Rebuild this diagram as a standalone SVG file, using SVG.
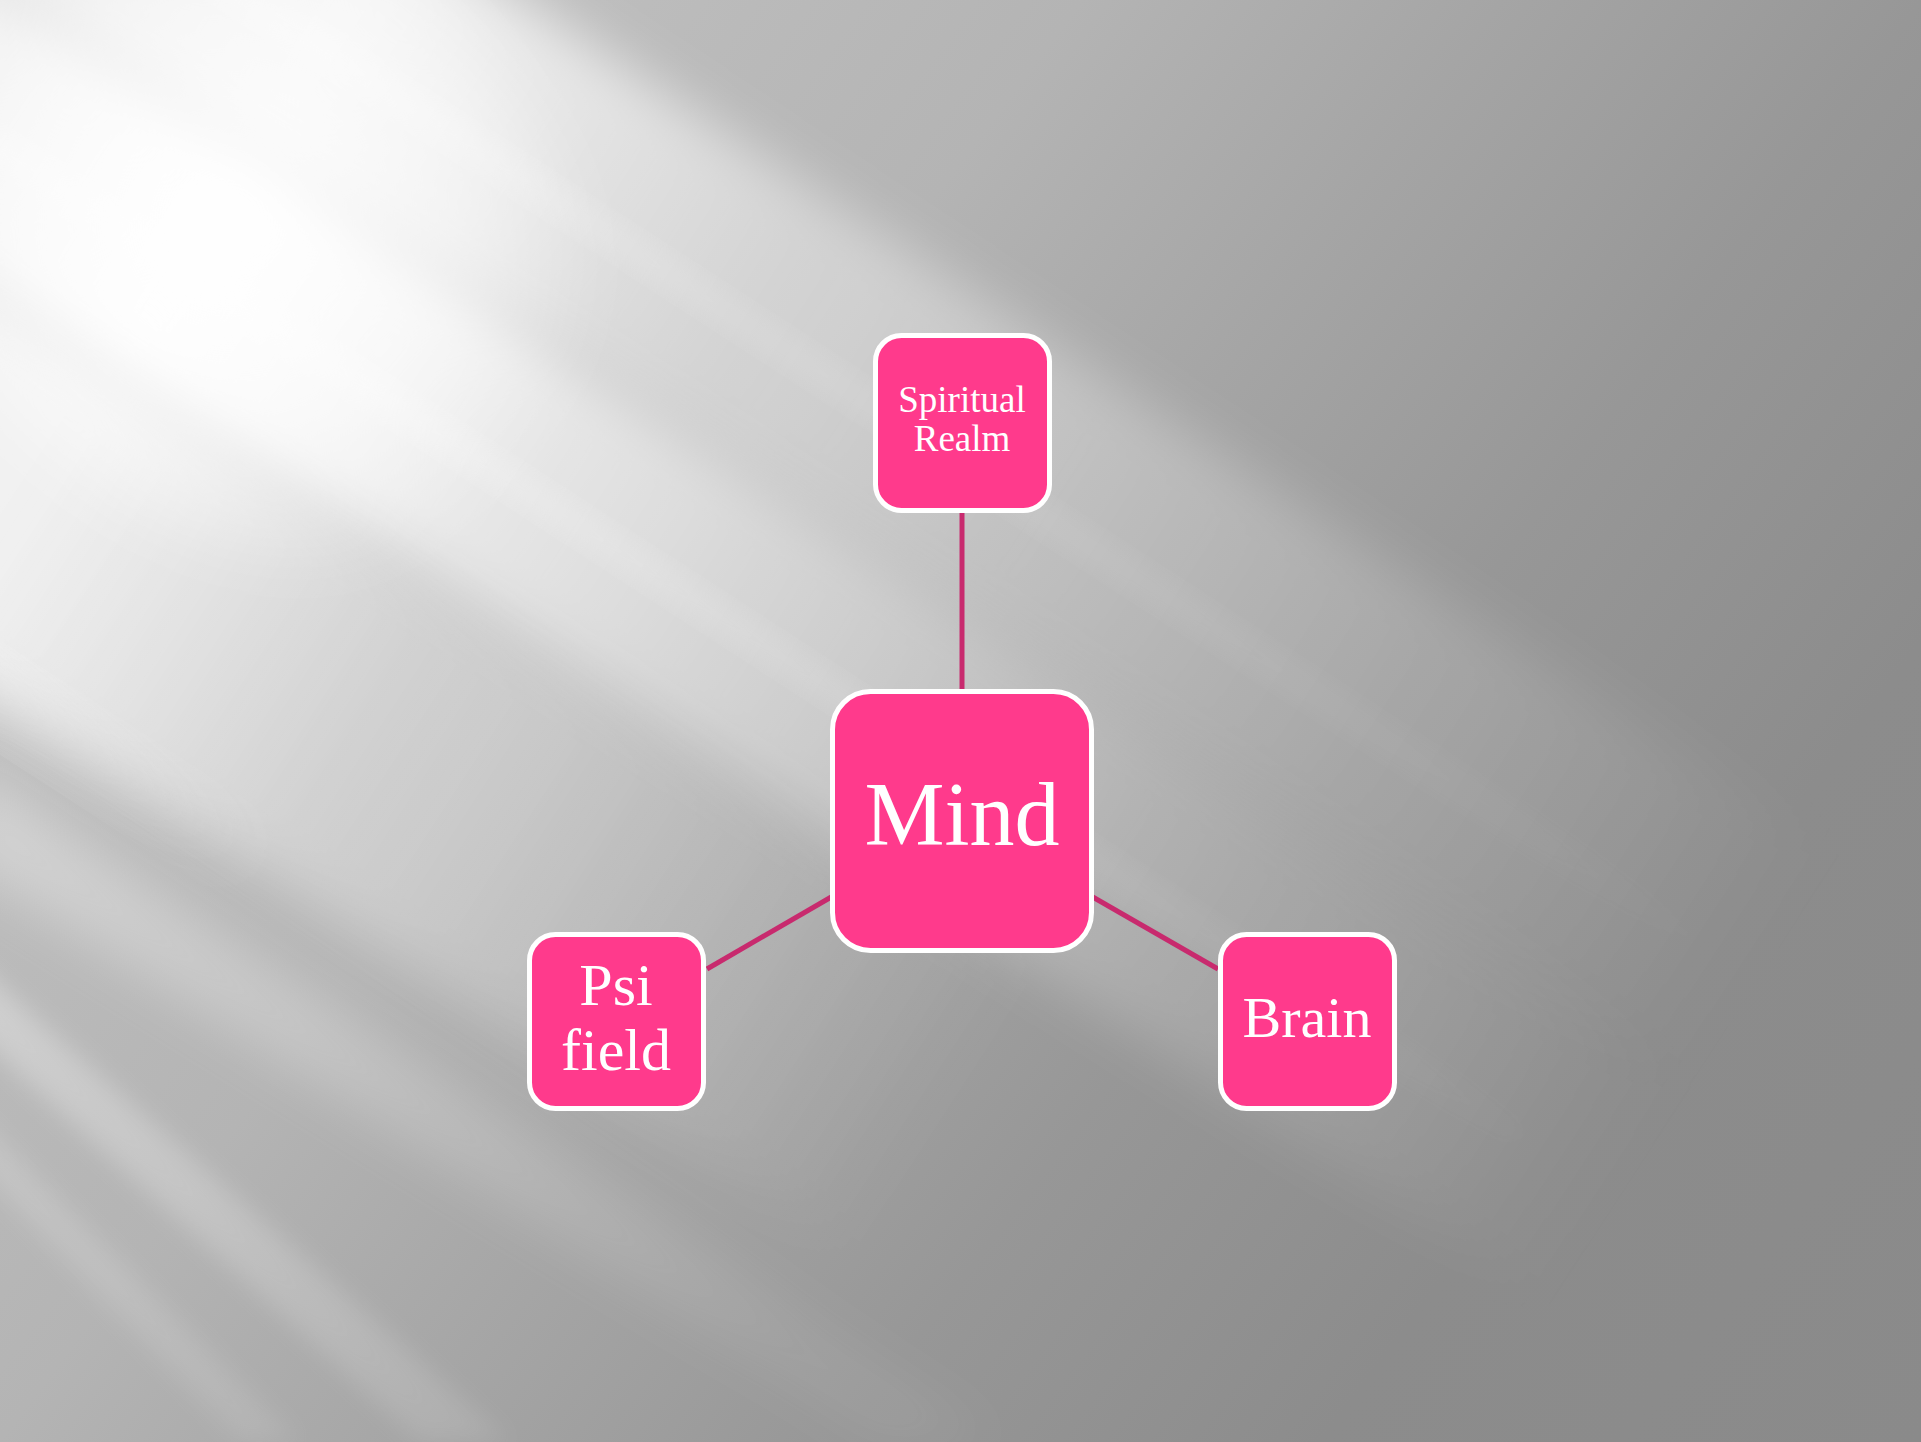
<svg xmlns="http://www.w3.org/2000/svg" width="1921" height="1442" viewBox="0 0 1921 1442">
<style>
.node{fill:#FF3A8C;stroke:#FFFFFF;stroke-width:5}
.lbl{fill:#FFFFFF;font-family:"Liberation Serif","Times New Roman",serif;text-anchor:middle}
.conn{stroke:#C82A6E;stroke-width:5;fill:none}
</style>
<defs>
<linearGradient id="bg" x1="0" y1="0" x2="1921" y2="1442" gradientUnits="userSpaceOnUse">
<stop offset="0" stop-color="#c8c8c8"/>
<stop offset="0.36" stop-color="#b4b4b4"/>
<stop offset="0.5" stop-color="#a5a5a5"/>
<stop offset="0.64" stop-color="#979797"/>
<stop offset="0.8" stop-color="#8c8c8c"/>
<stop offset="1" stop-color="#8a8a8a"/>
</linearGradient>
<linearGradient id="g1" x1="0" y1="0" x2="2000" y2="0" gradientUnits="userSpaceOnUse">
<stop offset="0" stop-color="#fff" stop-opacity="0.6"/>
<stop offset="0.15" stop-color="#fff" stop-opacity="0.8"/>
<stop offset="0.4" stop-color="#fff" stop-opacity="0.4"/>
<stop offset="1" stop-color="#fff" stop-opacity="0"/>
</linearGradient>
<linearGradient id="g2" x1="0" y1="0" x2="2000" y2="0" gradientUnits="userSpaceOnUse">
<stop offset="0" stop-color="#fff" stop-opacity="0.7"/>
<stop offset="0.15" stop-color="#fff" stop-opacity="0.95"/>
<stop offset="0.45" stop-color="#fff" stop-opacity="0.5"/>
<stop offset="0.7" stop-color="#fff" stop-opacity="0.22"/>
<stop offset="1" stop-color="#fff" stop-opacity="0"/>
</linearGradient>
<linearGradient id="g3" x1="0" y1="0" x2="1400" y2="0" gradientUnits="userSpaceOnUse">
<stop offset="0" stop-color="#fff" stop-opacity="0.85"/>
<stop offset="0.22" stop-color="#fff" stop-opacity="0.85"/>
<stop offset="0.5" stop-color="#fff" stop-opacity="0.4"/>
<stop offset="1" stop-color="#fff" stop-opacity="0"/>
</linearGradient>
<linearGradient id="g5" x1="0" y1="0" x2="700" y2="0" gradientUnits="userSpaceOnUse">
<stop offset="0" stop-color="#fff" stop-opacity="0.8"/>
<stop offset="1" stop-color="#fff" stop-opacity="0"/>
</linearGradient>
<linearGradient id="gs" x1="0" y1="700" x2="700" y2="1442" gradientUnits="userSpaceOnUse">
<stop offset="0" stop-color="#fff" stop-opacity="0.8"/>
<stop offset="1" stop-color="#fff" stop-opacity="0.15"/>
</linearGradient>
<radialGradient id="core" cx="230" cy="220" r="380" gradientUnits="userSpaceOnUse">
<stop offset="0" stop-color="#fff" stop-opacity="0.9"/>
<stop offset="0.6" stop-color="#fff" stop-opacity="0.5"/>
<stop offset="1" stop-color="#fff" stop-opacity="0"/>
</radialGradient>
<filter id="blur" x="-30%" y="-30%" width="160%" height="160%"><feGaussianBlur stdDeviation="26"/></filter>
<filter id="blur2" x="-30%" y="-30%" width="160%" height="160%"><feGaussianBlur stdDeviation="12"/></filter>
</defs>
<g id="background">
<rect x="0" y="0" width="1921" height="1442" fill="url(#bg)"/>
<g transform="rotate(33)">
<rect x="-300" y="-285" width="2700" height="275" fill="url(#g1)" filter="url(#blur)"/>
<rect x="-300" y="-10" width="2700" height="260" fill="url(#g2)" filter="url(#blur)"/>
<rect x="-300" y="250" width="2000" height="340" fill="url(#g3)" opacity="0.9" filter="url(#blur)"/>
<rect x="-300" y="555" width="1000" height="60" fill="url(#g5)" opacity="0.7" filter="url(#blur)"/>
<rect x="-300" y="110" width="2200" height="30" fill="url(#g2)" opacity="0.3" filter="url(#blur2)"/>
<rect x="-300" y="-150" width="2400" height="30" fill="url(#g1)" opacity="0.3" filter="url(#blur2)"/>
</g>
<ellipse cx="230" cy="220" rx="420" ry="300" transform="rotate(40 230 220)" fill="url(#core)" filter="url(#blur)"/>
<polygon points="-40,760 -40,860 880,1442 1000,1442" fill="url(#gs)" opacity="0.45" filter="url(#blur)"/>
<polygon points="-40,950 -40,1020 420,1442 510,1442" fill="url(#gs)" opacity="0.45" filter="url(#blur2)"/>
<polygon points="-40,1100 -40,1150 240,1442 300,1442" fill="url(#gs)" opacity="0.3" filter="url(#blur2)"/>
</g>
<g id="connectors">
<line class="conn" x1="962" y1="512" x2="962" y2="690"/>
<line class="conn" x1="707" y1="969" x2="833" y2="896"/>
<line class="conn" x1="1091" y1="896" x2="1218" y2="969"/>
</g>
<g id="node-spiritual">
<rect class="node" x="875.5" y="335.5" width="174" height="175" rx="26"/>
<text class="lbl" x="962" y="412" font-size="37">Spiritual</text>
<text class="lbl" x="962" y="451" font-size="37">Realm</text>
</g>
<g id="node-mind">
<rect class="node" x="832.5" y="691.5" width="259" height="259" rx="38"/>
<text class="lbl" x="962" y="845" font-size="90">Mind</text>
</g>
<g id="node-psi">
<rect class="node" x="529.5" y="934.5" width="174" height="174" rx="26"/>
<text class="lbl" x="616" y="1005" font-size="60">Psi</text>
<text class="lbl" x="616" y="1070" font-size="60">field</text>
</g>
<g id="node-brain">
<rect class="node" x="1220.5" y="934.5" width="174" height="174" rx="26"/>
<text class="lbl" x="1307" y="1037" font-size="58">Brain</text>
</g>
</svg>
